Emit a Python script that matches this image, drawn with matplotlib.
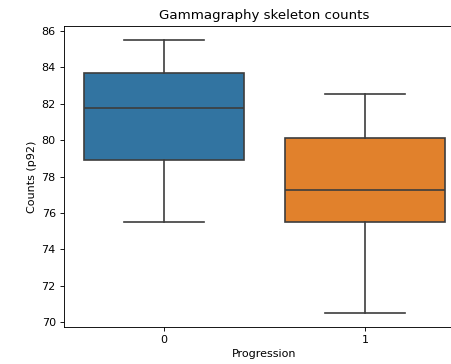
import matplotlib
matplotlib.use("Agg")
import matplotlib.pyplot as plt

# box summary values
groups = ["0", "1"]
whisker_low = [75.5, 70.5]
q1 = [78.9, 75.5]
median = [81.75, 77.25]
q3 = [83.65, 80.1]
whisker_high = [85.5, 82.5]

box_colors = ["#3274a1", "#e1812c"]
line_color = "#3d3d3d"

stats = []
for i, g in enumerate(groups):
    stats.append(dict(label=g, whislo=whisker_low[i], q1=q1[i], med=median[i],
                      q3=q3[i], whishi=whisker_high[i], fliers=[]))

DPI = 80
fig = plt.figure(figsize=(451 / DPI, 364 / DPI), dpi=DPI)
ax = fig.add_axes([63.5 / 451, 1 - 327 / 364, 402 / 451, 301 / 364])

line_kw = dict(color=line_color, linewidth=1.5)
bp = ax.bxp(stats, positions=range(len(groups)), widths=0.8, patch_artist=True,
            showfliers=False,
            boxprops=dict(edgecolor=line_color, linewidth=1.5),
            medianprops=line_kw, whiskerprops=line_kw, capprops=line_kw)
for patch, c in zip(bp["boxes"], box_colors):
    patch.set_facecolor(c)
for cap in bp["caps"]:
    mid = cap.get_xdata().mean()
    cap.set_xdata([mid - 0.2, mid + 0.2])

ax.set_xlim(-0.5, 1.5)
ax.set_ylim(69.75, 86.25)
ax.set_xticks(range(len(groups)))
ax.set_xticklabels(groups)
ax.set_title("Gammagraphy skeleton counts")
ax.set_xlabel("Progression")
ax.set_ylabel("Counts (p92)")

fig.savefig("out.png", dpi=DPI)
